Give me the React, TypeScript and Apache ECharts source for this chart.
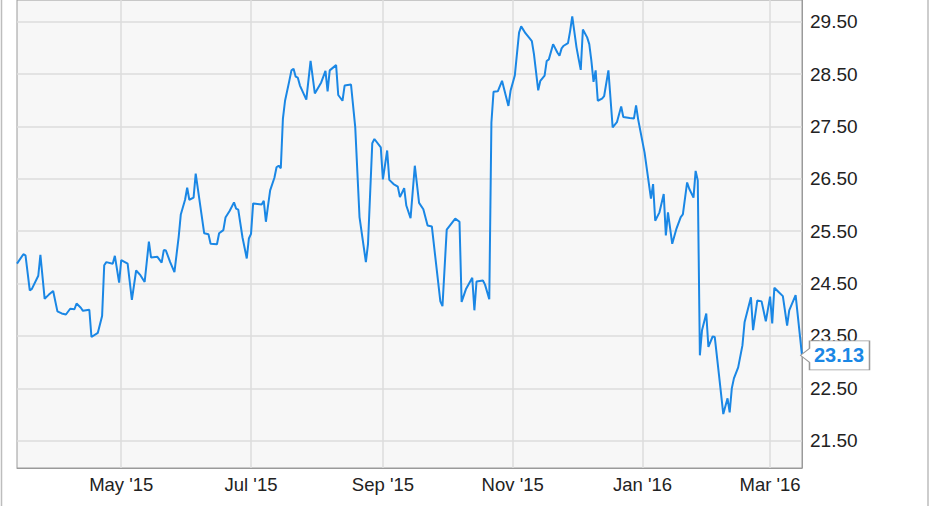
import React, { useEffect, useRef } from 'react';
import * as echarts from 'echarts';

const dates: string[] = [
  '2015-03-13','2015-03-16','2015-03-17','2015-03-19','2015-03-20','2015-03-23','2015-03-24','2015-03-26','2015-03-28','2015-03-30',
  '2015-04-01','2015-04-03','2015-04-05','2015-04-07','2015-04-09','2015-04-10','2015-04-12','2015-04-13','2015-04-16','2015-04-17',
  '2015-04-20','2015-04-22','2015-04-23','2015-04-24','2015-04-27','2015-04-28','2015-04-30','2015-05-01','2015-05-04','2015-05-06',
  '2015-05-08','2015-05-10','2015-05-12','2015-05-14','2015-05-15','2015-05-18','2015-05-20','2015-05-21','2015-05-22','2015-05-24',
  '2015-05-26','2015-05-28','2015-05-29','2015-05-31','2015-06-01','2015-06-02','2015-06-04','2015-06-05','2015-06-09','2015-06-11',
  '2015-06-12','2015-06-15','2015-06-16','2015-06-18','2015-06-19','2015-06-21','2015-06-23','2015-06-24','2015-06-25','2015-06-27',
  '2015-06-29','2015-06-30','2015-07-01','2015-07-02','2015-07-04','2015-07-06','2015-07-07','2015-07-08','2015-07-09','2015-07-10',
  '2015-07-12','2015-07-13','2015-07-14','2015-07-15','2015-07-16','2015-07-17','2015-07-19','2015-07-20','2015-07-21','2015-07-22',
  '2015-07-23','2015-07-24','2015-07-27','2015-07-29','2015-07-31','2015-08-03','2015-08-05','2015-08-06','2015-08-07','2015-08-10',
  '2015-08-11','2015-08-13','2015-08-14','2015-08-17','2015-08-19','2015-08-21','2015-08-24','2015-08-25','2015-08-27','2015-08-28',
  '2015-08-31','2015-09-01','2015-09-03','2015-09-04','2015-09-06','2015-09-08','2015-09-09','2015-09-11','2015-09-12','2015-09-14',
  '2015-09-16','2015-09-18','2015-09-20','2015-09-22','2015-09-24','2015-09-28','2015-09-29','2015-10-01','2015-10-05','2015-10-07',
  '2015-10-08','2015-10-10','2015-10-13','2015-10-14','2015-10-15','2015-10-18','2015-10-19','2015-10-21','2015-10-22','2015-10-23',
  '2015-10-25','2015-10-27','2015-10-28','2015-10-30','2015-10-31','2015-11-02','2015-11-04','2015-11-05','2015-11-07','2015-11-09',
  '2015-11-10','2015-11-11','2015-11-13','2015-11-14','2015-11-16','2015-11-17','2015-11-18','2015-11-20','2015-11-22','2015-11-23',
  '2015-11-24','2015-11-25','2015-11-27','2015-11-28','2015-11-29','2015-12-01','2015-12-02','2015-12-03','2015-12-04','2015-12-06',
  '2015-12-07','2015-12-08','2015-12-09','2015-12-10','2015-12-11','2015-12-13','2015-12-14','2015-12-16','2015-12-18','2015-12-20',
  '2015-12-22','2015-12-23','2015-12-26','2015-12-28','2015-12-29','2015-12-30','2016-01-02','2016-01-05','2016-01-06','2016-01-07',
  '2016-01-09','2016-01-11','2016-01-12','2016-01-13','2016-01-15','2016-01-17','2016-01-19','2016-01-20','2016-01-22','2016-01-23',
  '2016-01-25','2016-01-26','2016-01-27','2016-01-28','2016-01-29','2016-01-31','2016-02-01','2016-02-03','2016-02-04','2016-02-06',
  '2016-02-08','2016-02-10','2016-02-11','2016-02-12','2016-02-13','2016-02-15','2016-02-17','2016-02-18','2016-02-21','2016-02-22',
  '2016-02-24','2016-02-26','2016-02-28','2016-03-01','2016-03-02','2016-03-03','2016-03-05','2016-03-07','2016-03-09','2016-03-10',
  '2016-03-13','2016-03-16',
];

const prices: number[] = [
  24.88,25.06,25.04,24.37,24.40,24.65,25.05,24.21,24.29,24.36,
  23.97,23.93,23.91,24.02,24.01,24.12,24.04,23.98,24.00,23.48,
  23.56,23.88,24.85,24.91,24.88,25.03,24.52,24.95,24.88,24.19,
  24.75,24.66,24.53,25.30,25.00,25.01,24.90,25.14,25.13,24.91,
  24.72,25.39,25.82,26.10,26.33,26.10,26.14,26.60,25.46,25.44,
  25.26,25.25,25.46,25.52,25.76,25.89,26.05,25.93,25.91,25.38,
  24.98,25.36,25.45,26.03,26.02,26.01,26.08,25.68,25.99,26.28,
  26.52,26.72,26.75,26.70,27.65,27.99,28.37,28.57,28.60,28.45,
  28.43,28.28,28.01,28.75,28.13,28.34,28.56,28.17,28.57,28.67,
  28.10,27.99,28.28,28.30,27.48,25.77,24.91,25.26,27.18,27.26,
  27.10,26.49,27.04,26.48,26.40,26.35,26.15,26.32,25.99,25.75,
  26.75,26.04,25.92,25.61,25.59,24.16,24.07,25.53,25.74,25.68,
  24.15,24.39,24.61,23.99,24.54,24.56,24.48,24.20,27.57,28.16,
  28.17,28.37,28.21,27.89,28.18,28.47,29.29,29.41,29.28,29.18,
  29.13,28.88,28.19,28.37,28.47,28.75,28.78,29.07,28.91,28.85,
  28.99,29.04,29.09,29.32,29.60,29.01,28.79,28.58,29.35,29.20,
  29.07,28.75,28.35,28.57,27.99,28.03,28.08,28.57,27.48,27.58,
  27.88,27.68,27.66,27.65,27.90,27.63,27.00,26.12,26.40,25.70,
  25.86,26.21,25.42,25.86,25.26,25.55,25.77,25.82,26.43,26.31,
  26.14,26.65,26.47,23.13,23.61,23.93,23.29,23.49,23.48,22.75,
  22.01,22.31,22.04,22.50,22.69,22.90,23.32,23.76,24.24,23.61,
  24.18,24.16,23.78,24.25,23.74,24.42,24.34,24.26,23.70,23.99,
  24.28,23.13,
];

const xTickDates: string[] = ['2015-05-01', '2015-07-01', '2015-09-01', '2015-11-01', '2016-01-01', '2016-03-01'];
const yTickValues: number[] = [21.5, 22.5, 23.5, 24.5, 25.5, 26.5, 27.5, 28.5, 29.5];
const xRange: string[] = ['2015-03-13', '2016-03-16'];
const yRange: number[] = [20.98, 29.913];
const monthNames: string[] = ['Jan', 'Feb', 'Mar', 'Apr', 'May', 'Jun', 'Jul', 'Aug', 'Sep', 'Oct', 'Nov', 'Dec'];

const FONT = '"Liberation Sans", Arial, Helvetica, sans-serif';
const BLUE = '#1a87e5';

const toTime = (s: string) => Date.parse(s + 'T00:00:00Z');

export default function App() {
  const ref = useRef<HTMLDivElement>(null);

  useEffect(() => {
    if (!ref.current) return;
    const chart = echarts.init(ref.current, null, { renderer: 'svg' });
    const seriesData = dates.map((d, i) => [toTime(d), prices[i]]);
    const xTicks = xTickDates.map(toTime);
    const lastIdx = dates.length - 1;

    chart.setOption({
      animation: false,
      backgroundColor: '#ffffff',
      textStyle: { fontFamily: FONT },
      grid: {
        left: 17,
        right: 129,
        top: -1,
        bottom: 38,
        show: true,
        backgroundColor: '#f7f7f7',
        borderColor: '#9a9a9a',
        borderWidth: 1,
      },
      xAxis: {
        type: 'value',
        min: toTime(xRange[0]),
        max: toTime(xRange[1]),
        axisLine: { show: true, lineStyle: { color: '#9a9a9a', width: 1 } },
        axisTick: { show: false, customValues: xTicks },
        splitLine: { show: true, lineStyle: { color: '#dcdcdc', width: 1.5 } },
        axisLabel: {
          customValues: xTicks,
          margin: 7,
          color: '#222',
          fontSize: 18.5,
          fontFamily: FONT,
          formatter: (val: number) => {
            const d = new Date(val);
            return monthNames[d.getUTCMonth()] + " '" + String(d.getUTCFullYear()).slice(2);
          },
        },
      },
      yAxis: {
        type: 'value',
        position: 'right',
        min: yRange[0],
        max: yRange[1],
        axisLine: { show: true, lineStyle: { color: '#9a9a9a', width: 1 } },
        axisTick: { show: false, customValues: yTickValues },
        splitLine: { show: true, lineStyle: { color: '#dcdcdc', width: 1.5 } },
        axisLabel: {
          customValues: yTickValues,
          margin: 8,
          color: '#222',
          fontSize: 19,
          fontFamily: FONT,
          formatter: (v: number) => v.toFixed(2),
        },
      },
      graphic: [
        { type: 'line', shape: { x1: 1.5, y1: 0, x2: 1.5, y2: 506 }, style: { stroke: '#bdbdbd', lineWidth: 1.5 }, silent: true },
        { type: 'line', shape: { x1: 928, y1: 0, x2: 928, y2: 506 }, style: { stroke: '#bdbdbd', lineWidth: 1.5 }, silent: true },
      ],
      series: [
        {
          type: 'line',
          data: seriesData,
          showSymbol: false,
          symbol: 'none',
          clip: false,
          lineStyle: { color: BLUE, width: 2 },
          itemStyle: { color: BLUE },
          markPoint: {
            silent: true,
            symbol: 'path://M0,14.5L9,7.5L9,0L69,0L69,29L9,29L9,21.5Z',
            symbolSize: [69, 29],
            symbolOffset: [33, 0],
            itemStyle: { color: '#ffffff', borderColor: '#999999', borderWidth: 1 },
            label: {
              show: true,
              position: 'inside',
              offset: [4, 0],
              color: BLUE,
              fontWeight: 'bold',
              fontSize: 20,
              fontFamily: FONT,
              formatter: (p: any) => Number(p.value).toFixed(2),
            },
            data: [{ coord: [toTime(dates[lastIdx]), prices[lastIdx]], value: prices[lastIdx] }],
          },
        },
      ],
    });

    return () => chart.dispose();
  }, []);

  return (
    <div
      ref={ref}
      style={{ position: 'fixed', left: 0, top: 0, width: 931, height: 506, background: '#fff' }}
    />
  );
}
